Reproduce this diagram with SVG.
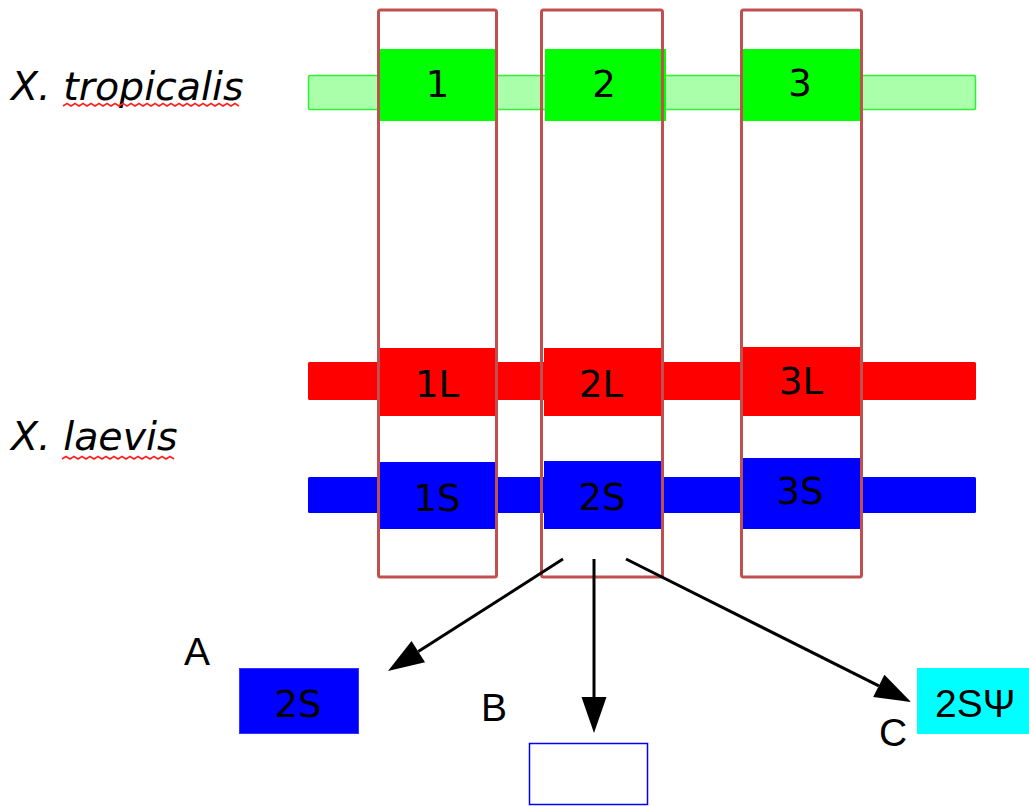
<svg xmlns="http://www.w3.org/2000/svg" width="1029" height="806" viewBox="0 0 1029 806">
<style>
.lbl{font-family:"DejaVu Sans",sans-serif;font-size:37px;fill:#000;text-anchor:middle}
.sp{font-family:"DejaVu Sans",sans-serif;font-size:39.5px;font-style:italic;fill:#000}
.let{font-family:"Liberation Sans",Arial,sans-serif;font-size:39px;fill:#000}
.frame{fill:none;stroke:#c0504d;stroke-width:3}
.g{fill:#00ff00}
.r{fill:#ff0000}
.b{fill:#0000ff}
.wave{fill:none;stroke:#ff2020;stroke-width:1.5}
.arr{stroke:#000;stroke-width:3;fill:none;marker-end:url(#ah)}
</style>
<defs>
<marker id="ah" markerUnits="userSpaceOnUse" markerWidth="40" markerHeight="30" refX="0" refY="0" orient="auto" overflow="visible">
<path d="M0,-12.5 L36,0 L0,12.5 z" fill="#000"/>
</marker>
</defs>
<rect width="1029" height="806" fill="#fff"/>
<g id="species-labels">
<text class="sp" x="11" y="100">X. tropicalis</text>
<path class="wave" d="M63,106 l4,-2.5 l4,2.5 l4,-2.5 l4,2.5 l4,-2.5 l4,2.5 l4,-2.5 l4,2.5 l4,-2.5 l4,2.5 l4,-2.5 l4,2.5 l4,-2.5 l4,2.5 l4,-2.5 l4,2.5 l4,-2.5 l4,2.5 l4,-2.5 l4,2.5 l4,-2.5 l4,2.5 l4,-2.5 l4,2.5 l4,-2.5 l4,2.5 l4,-2.5 l4,2.5 l4,-2.5 l4,2.5 l4,-2.5 l4,2.5 l4,-2.5 l4,2.5 l4,-2.5 l4,2.5 l4,-2.5 l4,2.5 l4,-2.5 l4,2.5 l4,-2.5 l4,2.5 l4,-2.5 l4,2.5"/>
<text class="sp" x="11" y="450">X. laevis</text>
<path class="wave" d="M62,459 l4,-2.5 l4,2.5 l4,-2.5 l4,2.5 l4,-2.5 l4,2.5 l4,-2.5 l4,2.5 l4,-2.5 l4,2.5 l4,-2.5 l4,2.5 l4,-2.5 l4,2.5 l4,-2.5 l4,2.5 l4,-2.5 l4,2.5 l4,-2.5 l4,2.5 l4,-2.5 l4,2.5 l4,-2.5 l4,2.5 l4,-2.5 l4,2.5 l4,-2.5 l4,2.5"/>
</g>
<g id="chromosome-tropicalis">
<rect x="308.5" y="75.5" width="667" height="34" rx="1.5" fill="#aaffaa" stroke="#33ee33" stroke-width="1.5"/>
</g>
<g id="chromosome-L">
<rect x="308" y="362" width="668" height="38" rx="1.5" class="r"/>
</g>
<g id="chromosome-S">
<rect x="308" y="477" width="668" height="36" rx="1.5" class="b"/>
</g>
<g id="gene-1"><rect class="g" x="380" y="49" width="115" height="72"/><text class="lbl" x="437.5" y="97">1</text></g>
<g id="gene-2"><rect class="g" x="545" y="49" width="121" height="72"/><text class="lbl" x="604" y="97">2</text></g>
<g id="gene-3"><rect class="g" x="743" y="49" width="117" height="72"/><text class="lbl" x="800" y="96">3</text></g>
<g id="gene-1L"><rect class="r" x="380" y="348" width="115" height="68"/><text class="lbl" x="437" y="397">1L</text></g>
<g id="gene-2L"><rect class="r" x="544" y="348" width="117" height="68"/><text class="lbl" x="601" y="397">2L</text></g>
<g id="gene-3L"><rect class="r" x="743" y="347" width="117" height="69"/><text class="lbl" x="801" y="394">3L</text></g>
<g id="gene-1S"><rect class="b" x="380" y="462" width="115" height="67"/><text class="lbl" x="437" y="511">1S</text></g>
<g id="gene-2S"><rect class="b" x="544" y="461" width="117" height="68"/><text class="lbl" x="602" y="510">2S</text></g>
<g id="gene-3S"><rect class="b" x="743" y="458" width="117" height="71"/><text class="lbl" x="800" y="504">3S</text></g>
<g id="frames">
<rect class="frame" x="378.5" y="10" width="118" height="567" rx="2"/>
<rect class="frame" x="541.5" y="10" width="121" height="567" rx="2"/>
<rect class="frame" x="741.5" y="10" width="120" height="567" rx="2"/>
</g>
<g id="connectors">
<line class="arr" x1="563" y1="559" x2="418.3" y2="651.6"/>
<line class="arr" x1="594" y1="559" x2="594" y2="697"/>
<line class="arr" x1="626" y1="559" x2="878.8" y2="685.9"/>
</g>
<g id="outcome-A">
<text class="let" x="184" y="665">A</text>
<rect x="239.5" y="668.5" width="119" height="65" fill="#0000ff" stroke="#3333ff" stroke-width="1"/>
<text class="lbl" x="298" y="717">2S</text>
</g>
<g id="outcome-B">
<text class="let" x="481" y="721">B</text>
<rect x="529.5" y="743.5" width="118" height="61" fill="#fff" stroke="#0000ff" stroke-width="1.5"/>
</g>
<g id="outcome-C">
<text class="let" x="879" y="746">C</text>
<rect x="917" y="668" width="112" height="66" fill="#00ffff"/>
<text class="let" x="935" y="717">2SΨ</text>
</g>
</svg>
